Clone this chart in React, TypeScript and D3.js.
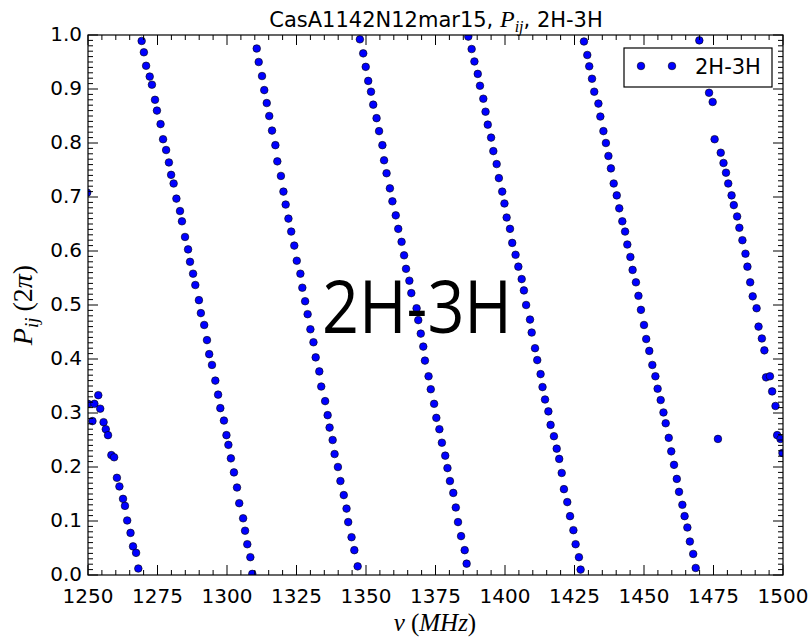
import React from 'react';
import * as d3 from 'd3';

// Phase P_ij (units of 2π) versus frequency ν (MHz), one array per phase wrap
const wrap0: [number, number][] = [
  [1249.7, 0.708], [1250.0, 0.317], [1251.6, 0.285], [1252.3, 0.317], [1253.7, 0.333], [1254.4, 0.308],
  [1255.6, 0.283], [1256.4, 0.27], [1257.2, 0.259], [1258.4, 0.222], [1259.4, 0.218], [1260.4, 0.18],
  [1261.3, 0.164], [1262.6, 0.141], [1263.3, 0.128], [1264.1, 0.101], [1265.3, 0.078], [1266.2, 0.053],
  [1267.3, 0.041], [1268.1, 0.012],
];
const wrap1: [number, number][] = [
  [1269.3, 0.989], [1270.1, 0.968], [1270.9, 0.943], [1272.2, 0.923], [1273.0, 0.908], [1274.1, 0.88],
  [1274.8, 0.86], [1276.1, 0.835], [1277.0, 0.807], [1278.1, 0.787], [1279.1, 0.764], [1279.9, 0.741],
  [1280.8, 0.725], [1281.8, 0.697], [1283.1, 0.674], [1283.8, 0.655], [1284.9, 0.626], [1286.0, 0.603],
  [1286.7, 0.58], [1287.8, 0.558], [1288.6, 0.537], [1289.9, 0.509], [1290.6, 0.485], [1291.8, 0.463],
  [1292.8, 0.435], [1293.6, 0.409], [1294.6, 0.389], [1295.8, 0.36], [1296.8, 0.334], [1297.6, 0.309],
  [1298.9, 0.286], [1299.8, 0.259], [1300.5, 0.241], [1301.4, 0.216], [1302.5, 0.19], [1303.6, 0.162],
  [1304.4, 0.133], [1305.8, 0.105], [1306.5, 0.082], [1307.3, 0.057], [1308.4, 0.033], [1309.1, 0.002],
];
const wrap2: [number, number][] = [
  [1310.7, 0.975], [1311.4, 0.95], [1312.6, 0.924], [1313.4, 0.898], [1314.3, 0.874], [1315.2, 0.85],
  [1316.2, 0.823], [1317.4, 0.796], [1318.1, 0.766], [1319.4, 0.739], [1320.3, 0.71], [1321.1, 0.686],
  [1322.1, 0.66], [1323.1, 0.636], [1324.2, 0.61], [1325.1, 0.582], [1326.4, 0.558], [1327.1, 0.532],
  [1328.1, 0.507], [1329.0, 0.483], [1330.0, 0.455], [1331.1, 0.431], [1331.9, 0.403], [1333.2, 0.377],
  [1333.9, 0.349], [1335.3, 0.322], [1336.2, 0.296], [1336.9, 0.273], [1338.0, 0.25], [1338.7, 0.224],
  [1339.9, 0.2], [1340.8, 0.174], [1342.0, 0.148], [1343.0, 0.123], [1343.6, 0.098], [1344.8, 0.07],
  [1345.8, 0.046], [1347.0, 0.016],
];
const wrap3: [number, number][] = [
  [1347.8, 0.992], [1349.0, 0.966], [1349.9, 0.941], [1350.8, 0.915], [1351.8, 0.895], [1352.6, 0.871],
  [1353.8, 0.846], [1354.7, 0.822], [1355.9, 0.796], [1356.5, 0.768], [1357.4, 0.744], [1358.6, 0.716],
  [1359.5, 0.692], [1360.7, 0.666], [1361.6, 0.641], [1362.8, 0.617], [1363.7, 0.592], [1364.4, 0.567],
  [1365.6, 0.545], [1366.3, 0.522], [1368.2, 0.494], [1368.8, 0.472], [1369.7, 0.447], [1370.6, 0.423],
  [1371.2, 0.397], [1372.5, 0.368], [1373.3, 0.344], [1374.5, 0.317], [1375.3, 0.291], [1376.4, 0.27],
  [1377.3, 0.245], [1378.5, 0.221], [1379.3, 0.198], [1380.2, 0.174], [1381.4, 0.152], [1382.3, 0.125],
  [1383.1, 0.098], [1384.2, 0.072], [1385.5, 0.046], [1386.2, 0.021],
];
const wrap4: [number, number][] = [
  [1386.8, 0.997], [1388.0, 0.974], [1389.0, 0.951], [1390.2, 0.928], [1391.0, 0.906], [1392.2, 0.882],
  [1393.0, 0.858], [1393.8, 0.834], [1395.0, 0.81], [1395.8, 0.785], [1397.0, 0.761], [1397.8, 0.735],
  [1399.0, 0.71], [1399.8, 0.688], [1400.6, 0.662], [1401.8, 0.641], [1402.6, 0.615], [1403.8, 0.593],
  [1404.8, 0.571], [1406.0, 0.548], [1406.8, 0.527], [1407.6, 0.5], [1409.0, 0.473], [1409.6, 0.449],
  [1410.8, 0.42], [1411.6, 0.398], [1412.8, 0.372], [1413.5, 0.348], [1414.4, 0.325], [1415.6, 0.303],
  [1416.4, 0.278], [1417.6, 0.257], [1418.6, 0.234], [1419.5, 0.215], [1420.4, 0.189], [1421.2, 0.159],
  [1422.4, 0.135], [1423.4, 0.109], [1424.6, 0.083], [1425.4, 0.057], [1426.6, 0.033], [1427.2, 0.01],
];
const wrap5: [number, number][] = [
  [1428.4, 0.988], [1429.6, 0.963], [1430.3, 0.942], [1431.3, 0.919], [1432.1, 0.895], [1433.6, 0.873],
  [1434.3, 0.849], [1435.4, 0.822], [1436.3, 0.8], [1437.2, 0.776], [1438.1, 0.753], [1439.1, 0.725],
  [1440.2, 0.703], [1441.1, 0.679], [1442.2, 0.655], [1443.2, 0.636], [1444.0, 0.612], [1445.1, 0.589],
  [1445.9, 0.565], [1447.1, 0.542], [1448.0, 0.517], [1448.9, 0.491], [1450.0, 0.463], [1450.8, 0.437],
  [1451.9, 0.415], [1453.0, 0.389], [1454.1, 0.368], [1454.9, 0.345], [1456.0, 0.324], [1457.0, 0.301],
  [1457.8, 0.281], [1458.9, 0.254], [1459.8, 0.229], [1460.8, 0.204], [1461.8, 0.178], [1462.6, 0.154],
  [1463.8, 0.13], [1464.6, 0.109], [1465.6, 0.088], [1466.5, 0.062], [1467.7, 0.039], [1468.6, 0.013],
];
const wrap6: [number, number][] = [
  [1469.9, 0.99], [1473.4, 0.893], [1474.7, 0.876], [1475.4, 0.807], [1476.6, 0.252], [1477.6, 0.782],
  [1478.6, 0.763], [1479.5, 0.745], [1480.3, 0.725], [1481.5, 0.703], [1482.3, 0.685], [1483.5, 0.664],
  [1484.3, 0.643], [1485.4, 0.62], [1486.5, 0.595], [1487.2, 0.571], [1488.2, 0.542], [1489.1, 0.516],
  [1490.5, 0.494], [1491.2, 0.46], [1492.4, 0.438], [1493.3, 0.416], [1493.9, 0.366], [1495.3, 0.368],
  [1496.1, 0.34], [1497.3, 0.313], [1497.9, 0.259], [1499.1, 0.252], [1499.8, 0.226],
];

const xMajorTicks = [1250, 1275, 1300, 1325, 1350, 1375, 1400, 1425, 1450, 1475, 1500];
const yMajorTicks = [0, 0.1, 0.2, 0.3, 0.4, 0.5, 0.6, 0.7, 0.8, 0.9, 1.0];
const seriesName = '2H-3H';
const titleText = 'CasA1142N12mar15, ';
const overlayText = '2H-3H';

const W = 809, H = 637;
const L = 88, R = 783, T = 35, B = 575;
const BLUE = '#0000ff';

export default function App() {
  const x = d3.scaleLinear().domain([1250, 1500]).range([L, R]);
  const y = d3.scaleLinear().domain([0, 1]).range([B, T]);
  const xMinor = d3.range(1250, 1500.1, 5);
  const yMinor = d3.range(0, 100.5, 1).map((v) => v / 100);
  const points = [...wrap0, ...wrap1, ...wrap2, ...wrap3, ...wrap4, ...wrap5, ...wrap6];
  const tickFont = { fontFamily: 'DejaVu Sans', fontSize: 20, fill: '#000' } as const;
  const maj = 10, mnr = 5;

  return (
    <div style={{ position: 'absolute', left: 0, top: 0 }}>
      <svg width={W} height={H} viewBox={`0 0 ${W} ${H}`} style={{ display: 'block', background: '#fff' }}>
        <defs>
          <clipPath id="plotclip">
            <rect x={L} y={T} width={R - L} height={B - T} />
          </clipPath>
        </defs>
        <rect x={0} y={0} width={W} height={H} fill="#fff" />
        <rect x={L} y={T} width={R - L} height={B - T} fill="#fff" />

        {/* points */}
        <g clipPath="url(#plotclip)">
          {points.map((d, i) => (
            <circle key={i} cx={x(d[0])} cy={y(d[1])} r={3.8} fill={BLUE} stroke="#000" strokeWidth={0.6} />
          ))}
        </g>

        {/* ticks */}
        <g stroke="#000" strokeWidth={1}>
          {xMinor.map((v) => {
            const isMaj = Math.abs((v - 1250) % 25) < 1e-6;
            const len = isMaj ? maj : mnr;
            return (
              <g key={'xm' + v}>
                <line x1={x(v)} x2={x(v)} y1={B} y2={B - len} />
                <line x1={x(v)} x2={x(v)} y1={T} y2={T + len} />
              </g>
            );
          })}
          {yMinor.map((v, i) => {
            const isMaj = i % 10 === 0;
            const len = isMaj ? maj : mnr;
            return (
              <g key={'ym' + i}>
                <line x1={L} x2={L + len} y1={y(v)} y2={y(v)} />
                <line x1={R} x2={R - len} y1={y(v)} y2={y(v)} />
              </g>
            );
          })}
        </g>

        {/* frame */}
        <rect x={L} y={T} width={R - L} height={B - T} fill="none" stroke="#000" strokeWidth={1.2} />

        {/* tick labels */}
        {xMajorTicks.map((v) => (
          <text key={'xl' + v} x={x(v)} y={B + 28} textAnchor="middle" {...tickFont}>
            {String(v)}
          </text>
        ))}
        {yMajorTicks.map((v) => (
          <text key={'yl' + v} x={L - 6} y={y(v) + 6} textAnchor="end" {...tickFont}>
            {v.toFixed(1)}
          </text>
        ))}

        {/* title */}
        <text x={436} y={27} textAnchor="middle" fontFamily="DejaVu Sans" fontSize={21} fill="#000">
          {titleText}
          <tspan fontFamily="Liberation Serif" fontStyle="italic" fontSize={24}>P</tspan>
          <tspan fontFamily="Liberation Serif" fontStyle="italic" fontSize={16} dy={5}>ij</tspan>
          <tspan dy={-5}>{', ' + seriesName}</tspan>
        </text>

        {/* x label */}
        <text x={435} y={631} textAnchor="middle" fontFamily="Liberation Serif" fontSize={25} fill="#000">
          <tspan fontStyle="italic">ν</tspan>
          <tspan dx={6}>(</tspan>
          <tspan fontStyle="italic">MHz</tspan>
          <tspan>)</tspan>
        </text>

        {/* y label */}
        <text transform={`translate(32,305) rotate(-90)`} textAnchor="middle" fontFamily="Liberation Serif" fontSize={28} fill="#000">
          <tspan fontStyle="italic">P</tspan>
          <tspan fontStyle="italic" fontSize={19} dy={6}>ij</tspan>
          <tspan dy={-6} dx={6}>(2</tspan>
          <tspan fontStyle="italic">π</tspan>
          <tspan>)</tspan>
        </text>

        {/* legend */}
        <rect x={624} y={48} width={148} height={39} fill="#fff" stroke="#000" strokeWidth={1.2} />
        <circle cx={641} cy={66} r={3.8} fill={BLUE} stroke="#000" strokeWidth={0.6} />
        <circle cx={672} cy={66} r={3.8} fill={BLUE} stroke="#000" strokeWidth={0.6} />
        <text x={695} y={74} fontFamily="DejaVu Sans" fontSize={21} fill="#000">{seriesName}</text>

        {/* overlay annotation */}
        <text x={322} y={333} textLength={190} lengthAdjust="spacingAndGlyphs" fontFamily="Open Sans" fontSize={74} fill="#000">
          {overlayText}
        </text>
      </svg>
    </div>
  );
}
